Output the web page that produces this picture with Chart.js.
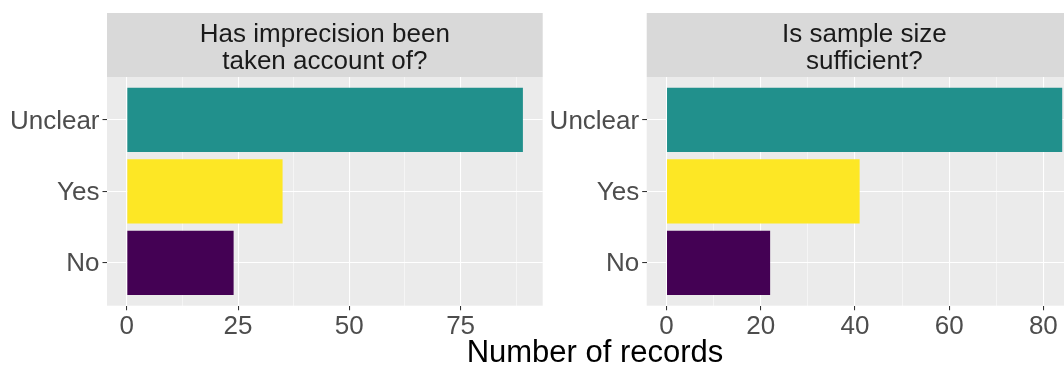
<!DOCTYPE html>
<html>
<head>
<meta charset="utf-8">
<script src="https://cdn.jsdelivr.net/npm/chart.js@4"></script>
<style>
  html, body { margin: 0; padding: 0; background: #ffffff; overflow: hidden; }
  body { width: 1064px; height: 367px; position: relative; }
  canvas { position: absolute; top: 0; }
  #c1 { left: 0px; }
  #xtitle { position: absolute; left: 0; width: 1190px; text-align: center; top: 334px;
            font-family: "Liberation Sans", Arial, sans-serif; font-size: 31px; color: #000; line-height: 35px; }
</style>
</head>
<body>
<div style="position:absolute;left:548px;top:0;width:540px;height:367px;">
  <canvas id="c2" width="540" height="367" style="left:0"></canvas>
</div>
<canvas id="c1" width="548" height="367"></canvas>
<div id="xtitle">Number of records</div>
<script>
// ---- data ----
const categories = ["No", "Yes", "Unclear"];
const barColors = ["#440154", "#FDE725", "#21908C"];
const panelTitles = [["Has imprecision been", "taken account of?"], ["Is sample size", "sufficient?"]];
const imprecisionValues = [24, 35, 89];
const sampleSizeValues = [22, 41, 84];
const imprecisionMajorTicks = [0, 25, 50, 75];
const imprecisionMinorTicks = [12.5, 37.5, 62.5, 87.5];
const sampleSizeMajorTicks = [0, 20, 40, 60, 80];
const sampleSizeMinorTicks = [10, 30, 50, 70];
const axisTitle = "Number of records";

const FONT = '"Liberation Sans", Arial, sans-serif';

const stripPlugin = {
  id: 'strip',
  beforeDraw(chart, args, opts) {
    const ctx = chart.ctx, a = chart.chartArea;
    ctx.save();
    ctx.fillStyle = '#EBEBEB';
    ctx.fillRect(a.left, a.top, a.right - a.left, a.bottom - a.top);
    ctx.fillStyle = '#D9D9D9';
    ctx.fillRect(a.left, 13, a.right - a.left, a.top - 13);
    ctx.fillStyle = '#1A1A1A';
    ctx.font = '26px ' + FONT;
    ctx.textAlign = 'center';
    ctx.textBaseline = 'alphabetic';
    const cx = (a.left + a.right) / 2;
    ctx.fillText(opts.lines[0], cx, 42);
    ctx.fillText(opts.lines[1], cx, 69);
    ctx.restore();
  }
};

function makeChart(id, values, majors, minors, titleLines, yWidth, padRight) {
  const maxV = Math.max(...values);
  const exp = maxV * 0.05;
  const allTicks = majors.concat(minors).filter(v => v <= maxV + exp).sort((a, b) => a - b);
  return new Chart(document.getElementById(id), {
    type: 'bar',
    data: {
      datasets: [{
        data: values.map((v, i) => ({ x: v, y: i })),
        backgroundColor: barColors,
        borderWidth: 0,
        categoryPercentage: 0.9,
        barPercentage: 1.0
      }]
    },
    plugins: [stripPlugin],
    options: {
      indexAxis: 'y',
      responsive: false,
      animation: false,
      devicePixelRatio: 1,
      layout: { padding: { top: 77, right: padRight, left: 0, bottom: 0 } },
      plugins: { legend: { display: false }, tooltip: { enabled: false }, strip: { lines: titleLines } },
      scales: {
        x: {
          type: 'linear',
          min: -exp,
          max: maxV + exp,
          offset: false,
          afterBuildTicks: (s) => { s.ticks = allTicks.map(v => ({ value: v })); },
          afterFit: (s) => { s.height = 367 - 305.7; },
          border: { display: false },
          grid: {
            offset: false,
            color: '#FFFFFF',
            lineWidth: (c) => majors.includes(c.tick.value) ? 1.07 : 0.53,
            tickColor: (c) => majors.includes(c.tick.value) ? '#333333' : 'rgba(0,0,0,0)',
            tickLength: 4.5,
            tickWidth: 1.07
          },
          ticks: {
            autoSkip: false, maxRotation: 0, padding: 1,
            color: '#4D4D4D', font: { family: FONT, size: 26 },
            callback: (v) => majors.includes(v) ? String(v) : ''
          }
        },
        y: {
          type: 'linear',
          min: -0.6,
          max: categories.length - 1 + 0.6,
          offset: false,
          afterBuildTicks: (s) => { s.ticks = categories.map((c, i) => ({ value: i })); },
          afterFit: (s) => { s.width = yWidth; },
          border: { display: false },
          grid: { offset: false, color: '#FFFFFF', lineWidth: 1.07, tickColor: '#333333', tickLength: 4.5, tickWidth: 1.07 },
          ticks: {
            autoSkip: false, padding: 3, labelOffset: 1.5,
            color: '#4D4D4D', font: { family: FONT, size: 26 },
            callback: (v) => categories[v]
          }
        }
      }
    }
  });
}

document.getElementById('xtitle').textContent = axisTitle;
makeChart('c1', imprecisionValues, imprecisionMajorTicks, imprecisionMinorTicks, panelTitles[0], 107, 5.3);
makeChart('c2', sampleSizeValues, sampleSizeMajorTicks, sampleSizeMinorTicks, panelTitles[1], 98.7, 6);
</script>
</body>
</html>
